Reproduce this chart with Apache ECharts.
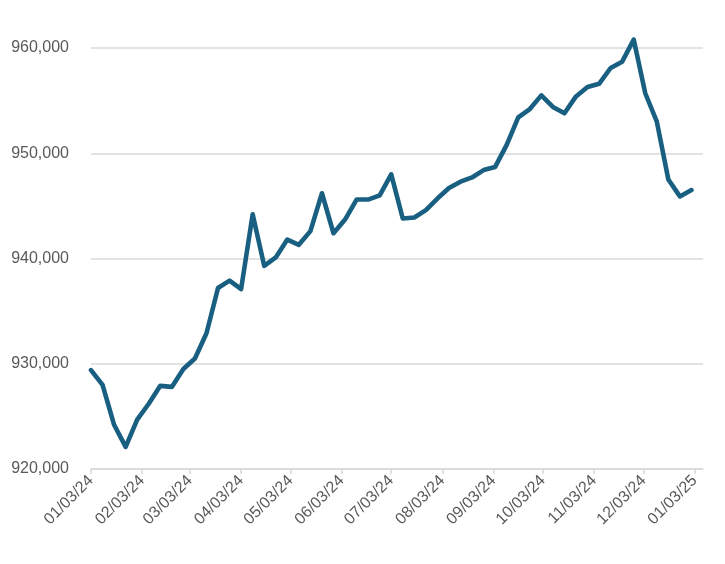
<!DOCTYPE html>
<html>
<head>
<meta charset="utf-8">
<script src="https://cdn.jsdelivr.net/npm/echarts@6/dist/echarts.min.js"></script>
<style>
html,body{margin:0;padding:0;background:#fff;}
#chart{width:725px;height:564px;}
</style>
</head>
<body>
<div id="chart"></div>
<script>
// Weekly observation dates
const dates = [
  '2024-01-03','2024-01-10','2024-01-17','2024-01-24','2024-01-31',
  '2024-02-07','2024-02-14','2024-02-21','2024-02-28',
  '2024-03-06','2024-03-13','2024-03-20','2024-03-27',
  '2024-04-03','2024-04-10','2024-04-17','2024-04-24',
  '2024-05-01','2024-05-08','2024-05-15','2024-05-22','2024-05-29',
  '2024-06-05','2024-06-12','2024-06-19','2024-06-26',
  '2024-07-03','2024-07-10','2024-07-17','2024-07-24','2024-07-31',
  '2024-08-07','2024-08-14','2024-08-21','2024-08-28',
  '2024-09-04','2024-09-11','2024-09-18','2024-09-25',
  '2024-10-02','2024-10-09','2024-10-16','2024-10-23','2024-10-30',
  '2024-11-06','2024-11-13','2024-11-20','2024-11-27',
  '2024-12-04','2024-12-11','2024-12-18','2024-12-25',
  '2025-01-01'
];
// Series values
const values = [
  929400, 928000, 924200, 922100, 924700,
  926200, 927900, 927800, 929500,
  930500, 932900, 937200, 937900,
  937100, 944200, 939300, 940100,
  941800, 941300, 942600, 946200, 942400,
  943700, 945600, 945600, 946000,
  948000, 943800, 943900, 944600, 945700,
  946700, 947300, 947700, 948400,
  948700, 950800, 953400, 954200,
  955500, 954400, 953800, 955400, 956300,
  956600, 958100, 958700, 960800,
  955700, 953000, 947500, 945900,
  946500
];
// X-axis tick dates (labels shown as MM/DD/YY)
const tickDates = [
  '2024-01-03','2024-02-03','2024-03-03','2024-04-03','2024-05-03','2024-06-03',
  '2024-07-03','2024-08-03','2024-09-03','2024-10-03','2024-11-03','2024-12-03',
  '2025-01-03'
];
// Y-axis tick values
const yTicks = [920000, 930000, 940000, 950000, 960000];
const yMin = 920000;
const yMax = 964000;

const ts = s => { const p = s.split('-').map(Number); return Date.UTC(p[0], p[1]-1, p[2]); };
const fmtDate = v => {
  const d = new Date(v);
  const mm = String(d.getUTCMonth()+1).padStart(2,'0');
  const dd = String(d.getUTCDate()).padStart(2,'0');
  const yy = String(d.getUTCFullYear()).slice(2);
  return mm + '/' + dd + '/' + yy;
};
const tickTs = tickDates.map(ts);
const seriesData = dates.map((d,i) => [ts(d), values[i]]);

const chart = echarts.init(document.getElementById('chart'), null, {renderer:'canvas'});
chart.setOption({
  animation: false,
  backgroundColor: '#ffffff',
  grid: { left: 91, right: 22, top: 5.9, bottom: 95, containLabel: false },
  xAxis: {
    type: 'value',
    min: ts('2024-01-03'),
    max: ts('2025-01-08'),
    axisLine: { show: true, lineStyle: { color: '#d9d9d9', width: 1.5 } },
    axisTick: { show: true, customValues: tickTs, length: 5, lineStyle: { color: '#d9d9d9', width: 1.5 } },
    axisLabel: {
      customValues: tickTs,
      formatter: v => fmtDate(v),
      rotate: 45,
      margin: 9,
      color: '#595959',
      fontSize: 16,
      fontFamily: 'Liberation Sans, Arial, sans-serif'
    },
    splitLine: { show: false }
  },
  yAxis: {
    type: 'value',
    min: yMin,
    max: yMax,
    axisLine: { show: false },
    axisTick: { show: false, customValues: yTicks },
    axisLabel: {
      customValues: yTicks,
      margin: 22,
      color: '#595959',
      fontSize: 16,
      fontFamily: 'Liberation Sans, Arial, sans-serif',
      formatter: v => v.toLocaleString('en-US')
    },
    splitLine: { show: true, lineStyle: { color: '#d9d9d9', width: 1.5 } }
  },
  series: [{
    type: 'line',
    data: seriesData,
    showSymbol: false,
    symbol: 'none',
    lineStyle: { color: '#185f82', width: 4.6, join: 'round', cap: 'round' },
    clip: false
  }]
});
</script>
</body>
</html>
